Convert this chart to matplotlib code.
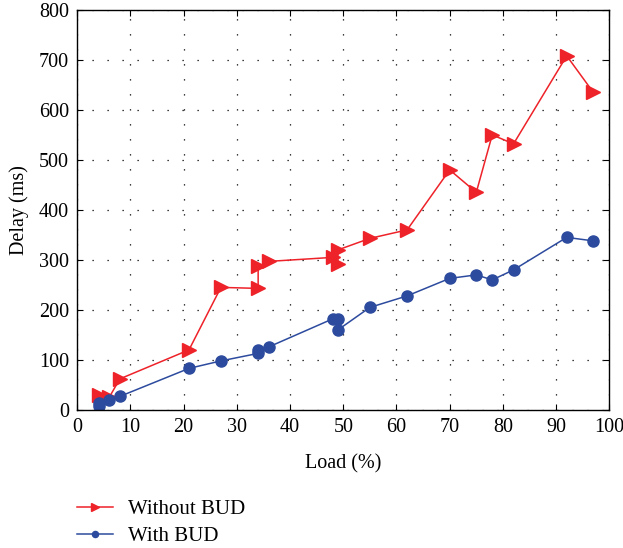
import matplotlib
matplotlib.use('Agg')
import matplotlib.pyplot as plt

plt.rcParams['font.family'] = ['Liberation Serif', 'DejaVu Serif']

# data
load_without = [4, 6, 8, 21, 27, 34, 34, 36, 48, 49, 49, 55, 62, 70, 75, 78, 82, 92, 97]
delay_without = [30, 25, 62, 120, 245, 243, 287, 297, 305, 292, 320, 343, 360, 480, 435, 550, 532, 708, 635]

load_with = [4, 4, 6, 8, 21, 27, 34, 34, 36, 48, 49, 49, 55, 62, 70, 75, 78, 82, 92, 97]
delay_with = [8, 14, 20, 27, 83, 98, 113, 120, 126, 182, 182, 160, 205, 228, 263, 270, 260, 280, 345, 338]

red = '#ee2229'
blue = '#2d4b9e'

fig = plt.figure(figsize=(6.23, 5.48), dpi=100)
ax = fig.add_axes([0.124, 0.252, 0.854, 0.730])

ax.plot(load_without, delay_without, color=red, marker='>', markersize=10,
        linewidth=1.1, label='Without BUD')
ax.plot(load_with, delay_with, color=blue, marker='o', markersize=8,
        linewidth=1.1, label='With BUD')

ax.set_xlim(0, 100)
ax.set_ylim(0, 800)
ax.set_xticks(range(0, 101, 10))
ax.set_yticks(range(0, 801, 100))
ax.grid(True, color='black', linestyle=(0, (1, 11)), linewidth=0.9)
ax.tick_params(direction='in', top=True, right=True, labelsize=14.5, length=4, pad=6)
for s in ax.spines.values():
    s.set_linewidth(1.0)

ax.set_xlabel('Load (%)', fontsize=14.5, labelpad=12)
ax.set_ylabel('Delay (ms)', fontsize=14.5, labelpad=7)

handles, labels = ax.get_legend_handles_labels()
fig.legend(handles, labels, loc='upper left', bbox_to_anchor=(0.094, 0.123),
           frameon=False, fontsize=15, markerscale=0.55, handlelength=1.7,
           handletextpad=0.72, labelspacing=0.35)

fig.savefig('out.png', dpi=100)
